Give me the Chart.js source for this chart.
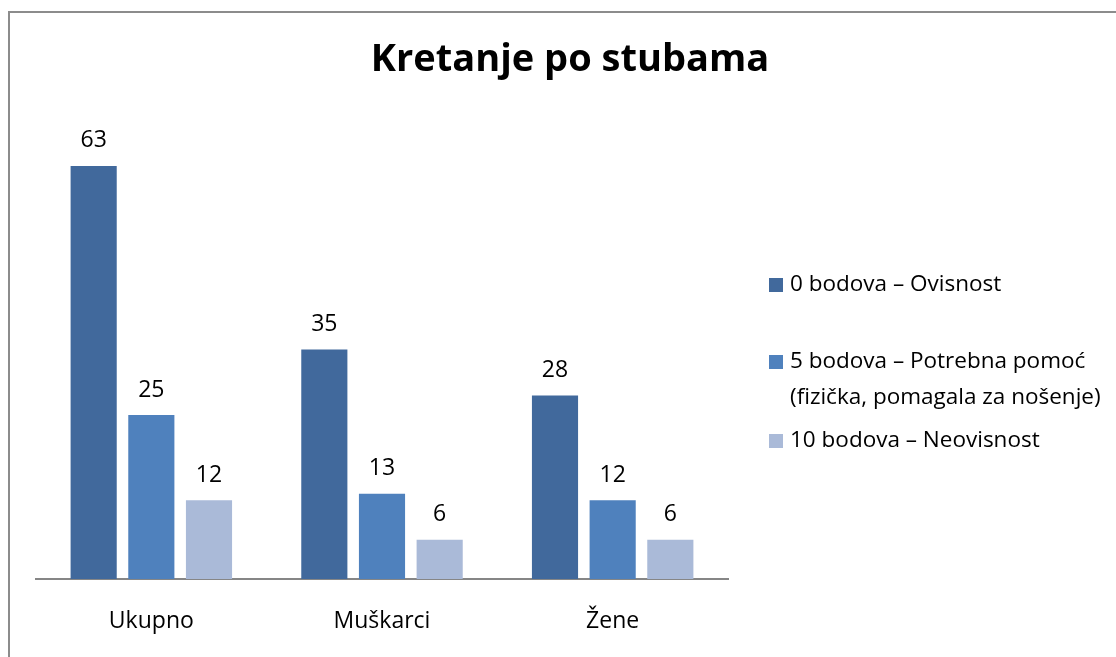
<!DOCTYPE html>
<html>
<head>
<meta charset="utf-8">
<script src="https://cdn.jsdelivr.net/npm/chart.js@4"></script>
<style>
  html, body { margin: 0; padding: 0; background: #fff; }
  #wrap { position: relative; width: 1116px; height: 657px; overflow: hidden; }
  #frame { position: absolute; left: 8px; top: 11px; width: 1200px; height: 700px;
           border-top: 2px solid #8c8c8c; border-left: 2px solid #8c8c8c; }
  #myCanvas { position: absolute; left: 0; top: 0; }
</style>
</head>
<body>
<div id="wrap">
  <div id="frame"></div>
  <canvas id="myCanvas" width="1116" height="657"></canvas>
</div>
<script>
// chart data
var categories = ["Ukupno", "Muškarci", "Žene"];
var seriesNames = ["0 bodova – Ovisnost", "5 bodova – Potrebna pomoć (fizička, pomagala za nošenje)", "10 bodova – Neovisnost"];
var ovisnost = [63, 35, 28];
var pomoc = [25, 13, 12];
var neovisnost = [12, 6, 6];
var colors = ["#41699c", "#4f81bd", "#aabad8"];
var chartTitle = "Kretanje po stubama";

var font = "'Open Sans', 'DejaVu Sans', sans-serif";

// value labels above bars
var barLabels = {
  id: "barLabels",
  afterDatasetsDraw: function (chart) {
    var ctx = chart.ctx;
    ctx.save();
    ctx.fillStyle = "#000";
    ctx.font = "23px " + font;
    ctx.textAlign = "center";
    ctx.textBaseline = "middle";
    chart.data.datasets.forEach(function (ds, i) {
      chart.getDatasetMeta(i).data.forEach(function (bar, j) {
        ctx.fillText(ds.data[j], bar.x, bar.y - 25);
      });
    });
    ctx.restore();
  }
};

// title + legend drawn on the right like the original
var titleAndLegend = {
  id: "titleAndLegend",
  afterDraw: function (chart) {
    var ctx = chart.ctx;
    ctx.save();
    ctx.fillStyle = "#000";
    ctx.font = "bold 38px " + font;
    ctx.textAlign = "center";
    ctx.textBaseline = "middle";
    ctx.fillText(chartTitle, 570, 60);

    var rowY = [285, 362, 441];
    var lineH = 36;
    var maxW = 322;
    ctx.font = "22.5px " + font;
    ctx.textAlign = "left";
    chart.data.datasets.forEach(function (ds, i) {
      // wrap long names
      var words = ds.label.split(" ");
      var lines = [];
      var cur = "";
      words.forEach(function (w) {
        var t = cur ? cur + " " + w : w;
        if (ctx.measureText(t).width > maxW && cur) {
          lines.push(cur);
          cur = w;
        } else {
          cur = t;
        }
      });
      lines.push(cur);
      ctx.fillStyle = ds.backgroundColor;
      ctx.fillRect(769, rowY[i] - 7, 14, 14);
      ctx.fillStyle = "#000";
      lines.forEach(function (l, k) {
        ctx.fillText(l, 790, rowY[i] + k * lineH);
      });
    });
    ctx.restore();
  }
};

var myChart = new Chart(document.getElementById("myCanvas"), {
  type: "bar",
  data: {
    labels: categories,
    datasets: [
      { label: seriesNames[0], data: ovisnost, backgroundColor: colors[0] },
      { label: seriesNames[1], data: pomoc, backgroundColor: colors[1] },
      { label: seriesNames[2], data: neovisnost, backgroundColor: colors[2] }
    ]
  },
  options: {
    responsive: false,
    animation: false,
    layout: { padding: { left: 36, right: 388, top: 120, bottom: 0 } },
    datasets: { bar: { categoryPercentage: 0.75, barPercentage: 0.8 } },
    plugins: {
      legend: { display: false },
      title: { display: false },
      tooltip: { enabled: false }
    },
    scales: {
      x: {
        grid: { display: false, drawTicks: false },
        border: { color: "#868686", width: 2 },
        ticks: { color: "#000", padding: 29, font: { family: font, size: 23 } },
        afterFit: function (scale) { scale.height = 78; }
      },
      y: { display: false, min: 0, max: 70 }
    }
  },
  plugins: [barLabels, titleAndLegend]
});
</script>
</body>
</html>
